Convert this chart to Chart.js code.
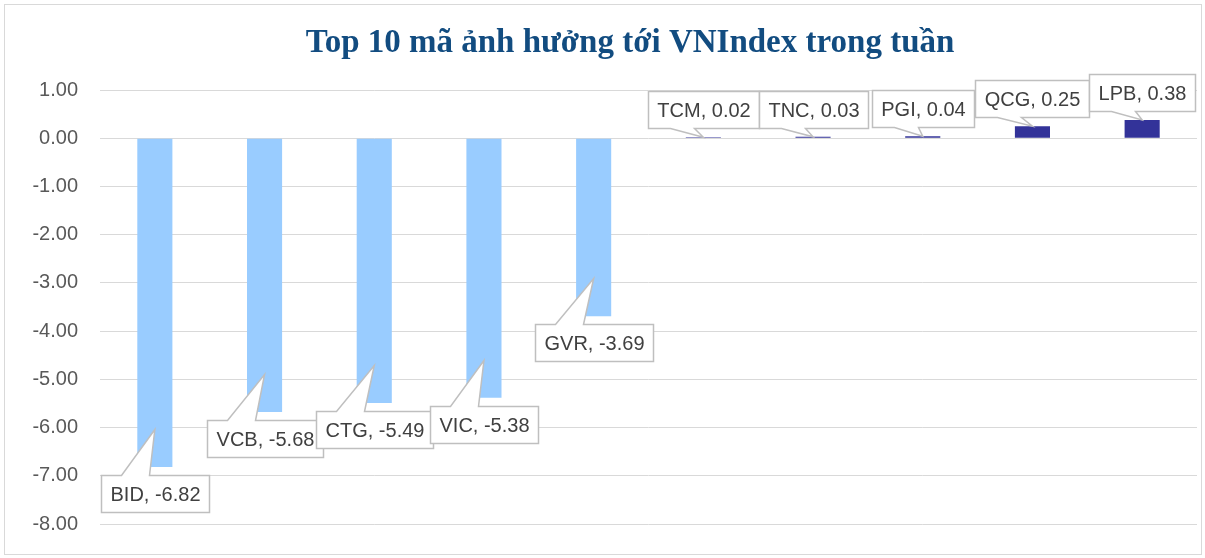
<!DOCTYPE html>
<html>
<head>
<meta charset="utf-8">
<script src="https://cdn.jsdelivr.net/npm/chart.js@4.4.1/dist/chart.umd.min.js"></script>
<style>
  html, body { margin: 0; padding: 0; background: #fff; }
  #wrap { width: 1205px; height: 558px; position: relative; }
</style>
</head>
<body>
<div id="wrap"><canvas id="impactChart"></canvas></div>
<script>
const chartTitle = "Top 10 mã ảnh hưởng tới VNIndex trong tuần";
const categories = ["BID", "VCB", "CTG", "VIC", "GVR", "TCM", "TNC", "PGI", "QCG", "LPB"];
const impact = [-6.82, -5.68, -5.49, -5.38, -3.69, 0.02, 0.03, 0.04, 0.25, 0.38];
const yMin = -8;
const yMax = 1;
const yStep = 1;

const negColor = "#99ccff";
const posColor = "#333399";

// Khung ngoài + tiêu đề
const framePlugin = {
  id: "frame",
  beforeDraw(chart) {
    const ctx = chart.ctx;
    ctx.save();
    ctx.fillStyle = "#fff";
    ctx.fillRect(0, 0, chart.width, chart.height);
    ctx.strokeStyle = "#d9d9d9";
    ctx.lineWidth = 1;
    ctx.strokeRect(4.5, 4.5, 1197, 550);
    ctx.font = "bold 33px 'Liberation Serif', serif";
    ctx.fillStyle = "#124c80";
    ctx.textAlign = "center";
    ctx.textBaseline = "middle";
    ctx.fillText(chartTitle, 630, 43);
    ctx.restore();
  },
};

// Nhãn dạng callout cho từng cột
const calloutPlugin = {
  id: "callouts",
  afterDatasetsDraw(chart) {
    const ctx = chart.ctx;
    const meta = chart.getDatasetMeta(0);
    ctx.save();
    ctx.font = "20px 'Liberation Sans', sans-serif";
    ctx.textAlign = "center";
    ctx.textBaseline = "middle";
    meta.data.forEach((bar, i) => {
      const v = impact[i];
      const text = categories[i] + ", " + v.toFixed(2);
      const w = Math.round(ctx.measureText(text).width + 18);
      const h = 37;
      const left = Math.round(bar.x - w / 2) + 0.5;
      let top;
      ctx.beginPath();
      if (v < 0) {
        top = Math.round(bar.y + 8) + 0.5;
        const tipY = top - 46;
        ctx.moveTo(left, top);
        ctx.lineTo(left + 20, top);
        ctx.lineTo(bar.x, tipY);
        ctx.lineTo(left + 48, top);
        ctx.lineTo(left + w, top);
        ctx.lineTo(left + w, top + h);
        ctx.lineTo(left, top + h);
      } else {
        top = Math.round(bar.y - 9 - h) + 0.5;
        ctx.moveTo(left, top);
        ctx.lineTo(left + w, top);
        ctx.lineTo(left + w, top + h);
        ctx.lineTo(left + 46, top + h);
        ctx.lineTo(bar.x, bar.y);
        ctx.lineTo(left + 22, top + h);
        ctx.lineTo(left, top + h);
      }
      ctx.closePath();
      ctx.fillStyle = "#fff";
      ctx.fill();
      ctx.strokeStyle = "#bfbfbf";
      ctx.lineWidth = 1.5;
      ctx.stroke();
      ctx.fillStyle = "#404040";
      ctx.fillText(text, left + w / 2, top + h / 2 + 1);
    });
    ctx.restore();
  },
};

const ctx = document.getElementById("impactChart").getContext("2d");
new Chart(ctx, {
  type: "bar",
  data: {
    labels: categories,
    datasets: [
      {
        data: impact,
        backgroundColor: impact.map((v) => (v < 0 ? negColor : posColor)),
        categoryPercentage: 1,
        barPercentage: 0.32,
      },
    ],
  },
  options: {
    responsive: true,
    maintainAspectRatio: false,
    animation: false,
    layout: { padding: { top: 90, bottom: 31, left: 0, right: 8 } },
    plugins: {
      legend: { display: false },
      tooltip: { enabled: false },
      title: { display: false },
    },
    scales: {
      x: { display: false },
      y: {
        min: yMin,
        max: yMax,
        afterFit: (scale) => {
          scale.width = 100;
        },
        ticks: {
          stepSize: yStep,
          padding: 22,
          color: "#595959",
          font: { family: "'Liberation Sans', sans-serif", size: 20 },
          callback: (v) => Number(v).toFixed(2),
        },
        grid: { color: "#d9d9d9", lineWidth: 1, drawTicks: false },
        border: { display: false },
      },
    },
  },
  plugins: [framePlugin, calloutPlugin],
});
</script>
</body>
</html>
